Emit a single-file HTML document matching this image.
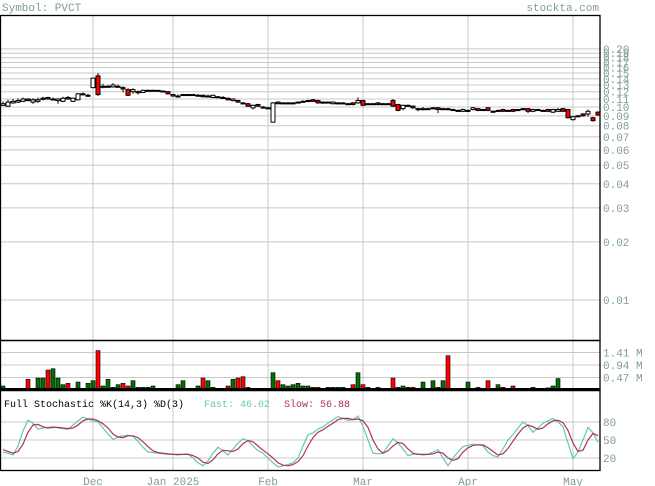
<!DOCTYPE html>
<html><head><meta charset="utf-8">
<style>
html,body{margin:0;padding:0;background:#fff;}
svg{display:block;font-family:"Liberation Mono",monospace;}
</style></head>
<body>
<svg id="chart" width="655" height="486" viewBox="0 0 655 486">
  <text x="2" y="11" font-size="11" fill="#7f9f8f">Symbol: PVCT</text>
  <text x="599" y="11" font-size="11" fill="#7f9f8f" text-anchor="end">stockta.com</text>
  <g id="grid"></g>
  <g id="candles"></g>
  <g id="volume"></g>
  <g id="stoch"></g>
  <g id="frames"></g>
  <text x="4" y="407" font-size="10" fill="#000">Full Stochastic %K(14,3) %D(3)</text>
  <text x="204" y="407" font-size="10" fill="#5fc8b8">Fast: 46.02</text>
  <text x="284" y="407" font-size="10" fill="#b03060">Slow: 56.88</text>
</svg>
<script>
const opens=[.102,.101,.105,.106,.107,.110,.106,.107,.110,.112,.109,.108,.107,.112,.107,.109,.116,.115,
.126,.145,.128,.127,.127,.128,.126,.123,.120,.120,.119,.122,.122,.122,.121,.120,
.116,.114,.115,.116,.116,.115,.115,.113,.112,.113,.112,.111,.108,.108,.105,.104,.099,.103,.100,
.099,.0835,.106,.105,.105,.105,.106,.107,.107,.109,.108,.105,.106,.104,.105,.105,.104,.105,.105,
.108,.104,.104,.105,.104,.104,.108,.103,.098,.102,.101,.098,.098,.098,.099,.099,.098,.098,.097,.096,.095,
.096,.097,.098,.097,.099,.095,.095,.097,.096,.097,.096,.097,.098,.095,.097,.096,.097,.094,.095,.098,.097,
.086,.090,.092,.092,.088,.094];
const closes=[.104,.106,.107,.108,.110,.108,.109,.109,.111,.110,.110,.110,.111,.110,.111,.117,.117,.115,
.141,.116,.128,.128,.130,.128,.124,.115,.123,.120,.122,.122,.122,.121,.120,.117,
.114,.114,.116,.116,.115,.115,.113,.114,.115,.113,.112,.109,.110,.106,.104,.101,.102,.101,.099,
.099,.105,.104,.105,.105,.105,.106,.107,.108,.107,.105,.106,.106,.106,.105,.105,.104,.103,.108,
.102,.104,.104,.103,.104,.104,.101,.096,.102,.102,.099,.098,.098,.098,.099,.097,.098,.097,.097,.096,.097,
.096,.099,.096,.097,.096,.095,.096,.095,.096,.095,.097,.098,.095,.097,.097,.096,.095,.097,.097,.095,.088,
.089,.090,.090,.095,.085,.091];
const highs=[.107,.109,.110,.111,.112,.111,.111,.112,.113,.113,.112,.111,.113,.114,.112,.118,.119,.117,
.142,.150,.132,.130,.133,.131,.128,.125,.125,.122,.123,.123,.123,.122,.122,.121,
.117,.116,.117,.117,.117,.117,.116,.116,.116,.114,.114,.112,.111,.109,.106,.105,.103,.104,.101,
.100,.106,.107,.106,.106,.106,.107,.108,.109,.110,.109,.107,.107,.107,.106,.106,.105,.106,.112,
.109,.105,.105,.106,.105,.105,.110,.104,.103,.103,.102,.099,.100,.099,.100,.100,.099,.099,.098,.097,.098,
.097,.100,.099,.098,.100,.096,.097,.098,.097,.098,.098,.099,.099,.098,.098,.097,.098,.098,.099,.099,.098,
.090,.091,.093,.097,.089,.095];
const lows=[.101,.100,.104,.105,.106,.107,.104,.105,.108,.109,.108,.104,.106,.109,.106,.108,.115,.113,
.125,.114,.125,.126,.126,.126,.119,.114,.117,.116,.118,.121,.121,.120,.119,.116,
.113,.113,.114,.115,.114,.114,.112,.112,.111,.112,.110,.108,.107,.105,.103,.100,.097,.100,.098,
.098,.083,.103,.104,.104,.104,.105,.106,.106,.106,.104,.104,.105,.103,.104,.104,.103,.102,.104,
.101,.103,.103,.102,.103,.103,.100,.095,.096,.101,.098,.095,.096,.097,.098,.093,.097,.096,.096,.095,.094,
.095,.096,.095,.096,.095,.094,.094,.094,.095,.094,.095,.096,.093,.094,.096,.095,.094,.093,.094,.094,.087,
.085,.089,.089,.089,.084,.090];
const volumes=[.15,.05,.05,.05,0,.4,0,.45,.45,.75,.8,.45,.2,.25,.05,.3,.05,.25,.35,1.48,
.15,.4,.1,.2,.25,.15,.35,.1,.1,.1,.15,0,0,.05,0,.2,.35,0,.05,.15,
.45,.35,.1,0,.05,.15,.4,.45,.5,.1,.05,.05,.05,.05,.65,.35,.2,.15,.2,.25,
.15,.15,.1,.1,.05,.1,.1,.1,.1,.05,.2,.65,.2,.1,.05,.1,.05,0,.45,.1,
.15,.1,.1,0,.3,.05,.35,.1,.35,1.29,0,0,0,.3,.05,.1,0,.35,0,.2,
.1,.05,.15,0,.05,.05,.1,0,.05,.08,.15,.43,0,0,.05,0,0,0,0,0];
const kFast=[30,28,25,40,65,83,78,68,70,71,72,70,69,68,75,82,88,85,82,80,
70,60,51,55,57,58,56,48,38,30,29,28,27,26,26,25,26,27,20,12,
7,15,28,38,32,25,35,45,52,49,40,32,28,20,12,5,7,9,12,20,
40,59,62,68,72,78,84,89,86,83,84,90,73,50,28,27,28,40,52,45,
35,24,26,27,25,26,30,34,20,7,20,30,39,41,43,42,40,30,24,22,
35,50,59,70,80,74,63,70,78,82,86,80,72,45,19,30,50,71,62,46];
const dSlow=[34,31,28,31,43,63,75,76,72,70,71,71,70,69,70,75,82,85,85,82,
77,70,60,55,54,57,57,54,47,39,32,29,28,27,26,26,26,26,24,20,
13,11,17,27,33,32,31,35,44,49,47,40,33,27,20,12,8,7,9,14,
24,40,54,63,67,73,78,84,86,86,84,85,82,71,50,35,28,32,40,46,
44,35,28,26,26,26,27,30,28,20,16,19,30,37,41,42,42,37,31,25,
27,36,48,60,70,75,72,68,70,77,82,83,79,66,45,31,33,50,61,57];
const priceTicks=[0.2,0.19,0.18,0.17,0.16,0.15,0.14,0.13,0.12,0.11,0.10,0.09,0.08,0.07,0.06,0.05,0.04,0.03,0.02,0.01];
const volTicks=[1.41,0.94,0.47];
const stochTicks=[80,50,20];
const months=["Dec","Jan 2025","Feb","Mar","Apr","May"];
const monthIdx=[18,34,53,72,93,114];

const NS="http://www.w3.org/2000/svg";
function mk(tag,attrs,parent){const e=document.createElementNS(NS,tag);for(const k in attrs)e.setAttribute(k,attrs[k]);parent.appendChild(e);return e;}
const xAt=i=>3+5*i;
const yP=p=>107-193*Math.log10(p/0.1);
const yV=v=>390-v*(12.5/0.47);
const yS=v=>470-v*0.6;
const grid=document.getElementById('grid');
const GC="#c8c8c8";

priceTicks.forEach(t=>{
  const y=yP(t);
  const l=mk('line',{x1:0,x2:600,y1:y,y2:y,stroke:GC,'stroke-width':1},grid);
  
  
  const tx=mk('text',{x:603,y:y+4,'font-size':11,fill:'#7f9f8f'},grid);
  tx.textContent=t.toFixed(2);
  
  
});
volTicks.forEach(t=>{
  const y=yV(t);
  const l=mk('line',{x1:0,x2:600,y1:y,y2:y,stroke:GC},grid);
  
  
  const tx=mk('text',{x:603,y:y+4,'font-size':11,fill:'#7f9f8f'},grid);
  tx.textContent=t.toFixed(2)+' M';
  
  
});
stochTicks.forEach(t=>{
  const y=yS(t);
  const l=mk('line',{x1:0,x2:600,y1:y,y2:y,stroke:GC},grid);
  
  
  const tx=mk('text',{x:603,y:y+4,'font-size':11,fill:'#7f9f8f'},grid);
  tx.textContent=t;
  
  
});
months.forEach((m,j)=>{
  const x=xAt(monthIdx[j]);
  const l=mk('line',{x1:x,x2:x,y1:15,y2:470,stroke:GC},grid);
  
  
  const tx=mk('text',{x:x,y:485,'font-size':11,fill:'#7f9f8f','text-anchor':'middle'},grid);
  tx.textContent=m;
  
  
});

const cg=document.getElementById('candles');
opens.forEach((o,i)=>{
  const c=closes[i],x=xAt(i);
  const w=mk('line',{x1:x,x2:x,y1:yP(highs[i]),y2:yP(lows[i]),stroke:'#000','stroke-width':1},cg);
  
  
  const top=yP(Math.max(o,c)),bot=yP(Math.min(o,c));
  const h=Math.max(bot-top,1);
  const r=mk('rect',{x:x-2,y:top,width:4,height:h,fill:c<o?'#ff0000':'#ffffff',stroke:'#000','stroke-width':1},cg);
  
  
});

const vg=document.getElementById('volume');
volumes.forEach((v,i)=>{
  if(v<=0)return;
  const y=yV(v);
  const r=mk('rect',{x:xAt(i)-2,y:y,width:4,height:390-y,fill:closes[i]<opens[i]?'#ff0000':'#007000',stroke:'#000','stroke-width':0.6},vg);
  
  
});

const sg=document.getElementById('stoch');
const pk=mk('polyline',{points:kFast.map((v,i)=>xAt(i)+','+yS(v)).join(' '),fill:'none',stroke:'#5fc8b8','stroke-width':1.2},sg);


const pd=mk('polyline',{points:dSlow.map((v,i)=>xAt(i)+','+yS(v)).join(' '),fill:'none',stroke:'#b03060','stroke-width':1.2},sg);



const fg=document.getElementById('frames');
[[15,340],[340,390],[390,470]].forEach(([a,b])=>{
  const r=mk('rect',{x:0.5,y:a+0.5,width:599.5,height:b-a,fill:'none',stroke:'#000','stroke-width':1.3},fg);
  
  
});
const base=mk('line',{x1:0,x2:600,y1:389,y2:389,stroke:'#000','stroke-width':2},fg);


</script>
</body></html>
